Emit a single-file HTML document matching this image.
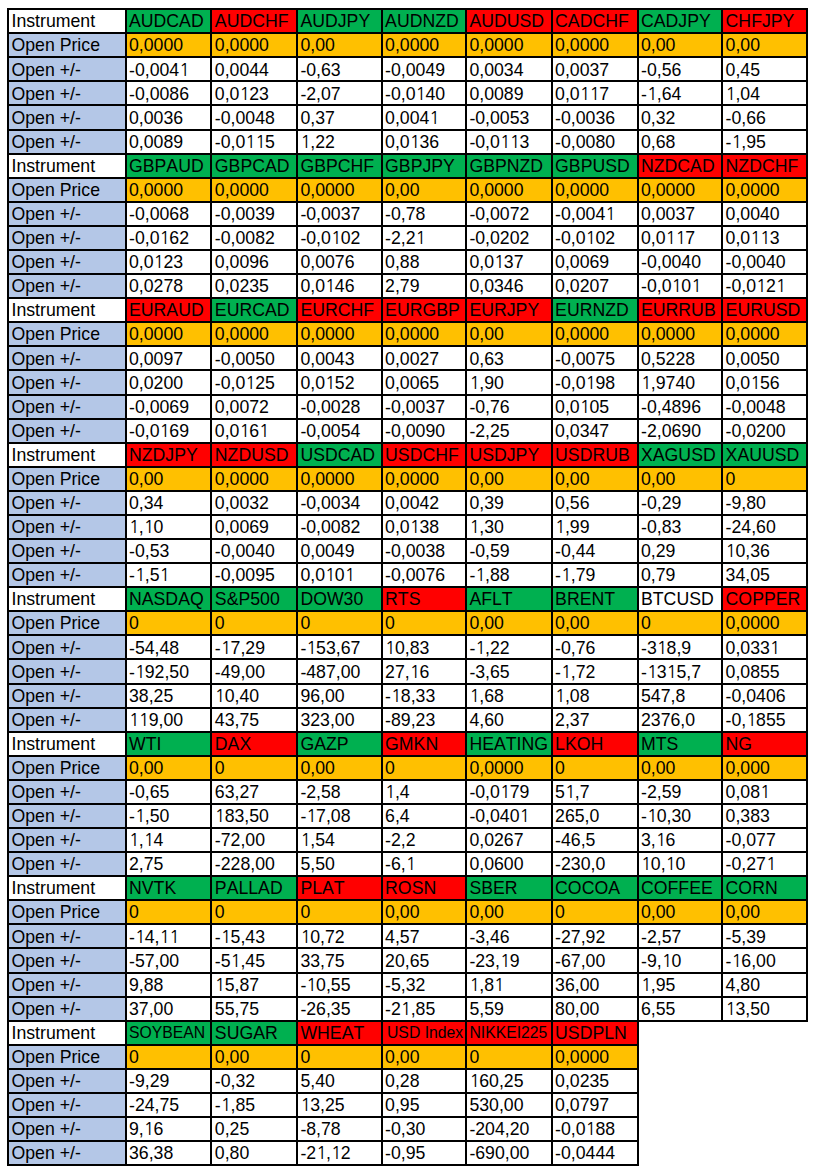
<!DOCTYPE html>
<html><head><meta charset="utf-8"><title>Instruments</title>
<style>
html,body{margin:0;padding:0;background:#fff;}
body{width:815px;height:1173px;position:relative;overflow:hidden;font-family:"Liberation Sans",Arial,sans-serif;font-size:17.7px;color:#000;font-kerning:none;font-feature-settings:"kern" 0;}
.k{position:absolute;background:#000;}
.c{position:absolute;box-sizing:border-box;padding-left:2px;white-space:nowrap;overflow:hidden;line-height:22px;}
.g{background:#00b050}.r{background:#ff0000}.w{background:#fff}.o{background:#ffc000}.b{background:#b4c7e7}
.n1{font-family:"NanumGothic","Liberation Sans",sans-serif;display:inline-block;width:0.556em}
.hy{position:relative;top:1px}
.s1{font-size:15.75px}.s2{font-size:15.75px;padding-left:4px}.s3{font-size:15.75px}
</style></head><body>

<div class="k" style="left:7px;top:8px;width:801px;height:147px"></div>
<div class="c w" style="left:9px;top:10px;width:116px;height:22px;padding-left:2.5px;">Instrument</div>
<div class="c g" style="left:127px;top:10px;width:83px;height:22px;padding-left:2.0px;">AUDCAD</div>
<div class="c r" style="left:212px;top:10px;width:84px;height:22px;padding-left:2.85px;">AUDCHF</div>
<div class="c g" style="left:298px;top:10px;width:83px;height:22px;padding-left:2.4px;">AUDJPY</div>
<div class="c g" style="left:383px;top:10px;width:82px;height:22px;padding-left:2.1px;">AUDNZD</div>
<div class="c r" style="left:467px;top:10px;width:84px;height:22px;padding-left:2.4px;">AUDUSD</div>
<div class="c r" style="left:553px;top:10px;width:84px;height:22px;padding-left:2.1px;">CADCHF</div>
<div class="c g" style="left:639px;top:10px;width:82px;height:22px;padding-left:2.0px;">CADJPY</div>
<div class="c r" style="left:723px;top:10px;width:83px;height:22px;padding-left:2.6px;">CHFJPY</div>
<div class="c b" style="left:9px;top:34px;width:116px;height:22px;padding-left:2.5px;">Open Price</div>
<div class="c o" style="left:127px;top:34px;width:83px;height:22px;padding-left:2.0px;">0,0000</div>
<div class="c o" style="left:212px;top:34px;width:84px;height:22px;padding-left:2.85px;">0,0000</div>
<div class="c o" style="left:298px;top:34px;width:83px;height:22px;padding-left:2.4px;">0,00</div>
<div class="c o" style="left:383px;top:34px;width:82px;height:22px;padding-left:2.1px;">0,0000</div>
<div class="c o" style="left:467px;top:34px;width:84px;height:22px;padding-left:2.4px;">0,0000</div>
<div class="c o" style="left:553px;top:34px;width:84px;height:22px;padding-left:2.1px;">0,0000</div>
<div class="c o" style="left:639px;top:34px;width:82px;height:22px;padding-left:2.0px;">0,00</div>
<div class="c o" style="left:723px;top:34px;width:83px;height:22px;padding-left:2.6px;">0,00</div>
<div class="c b" style="left:9px;top:58px;width:116px;height:22px;padding-top:1px;padding-left:2.5px;">Open +/-</div>
<div class="c w" style="left:127px;top:58px;width:83px;height:22px;padding-top:1px;padding-left:2.0px;"><span class="hy">-</span>0,004<span class="n1">1</span></div>
<div class="c w" style="left:212px;top:58px;width:84px;height:22px;padding-top:1px;padding-left:2.85px;">0,0044</div>
<div class="c w" style="left:298px;top:58px;width:83px;height:22px;padding-top:1px;padding-left:2.4px;"><span class="hy">-</span>0,63</div>
<div class="c w" style="left:383px;top:58px;width:82px;height:22px;padding-top:1px;padding-left:2.1px;"><span class="hy">-</span>0,0049</div>
<div class="c w" style="left:467px;top:58px;width:84px;height:22px;padding-top:1px;padding-left:2.4px;">0,0034</div>
<div class="c w" style="left:553px;top:58px;width:84px;height:22px;padding-top:1px;padding-left:2.1px;">0,0037</div>
<div class="c w" style="left:639px;top:58px;width:82px;height:22px;padding-top:1px;padding-left:2.0px;"><span class="hy">-</span>0,56</div>
<div class="c w" style="left:723px;top:58px;width:83px;height:22px;padding-top:1px;padding-left:2.6px;">0,45</div>
<div class="c b" style="left:9px;top:82px;width:116px;height:22px;padding-top:1px;padding-left:2.5px;">Open +/-</div>
<div class="c w" style="left:127px;top:82px;width:83px;height:22px;padding-top:1px;padding-left:2.0px;"><span class="hy">-</span>0,0086</div>
<div class="c w" style="left:212px;top:82px;width:84px;height:22px;padding-top:1px;padding-left:2.85px;">0,0<span class="n1">1</span>23</div>
<div class="c w" style="left:298px;top:82px;width:83px;height:22px;padding-top:1px;padding-left:2.4px;"><span class="hy">-</span>2,07</div>
<div class="c w" style="left:383px;top:82px;width:82px;height:22px;padding-top:1px;padding-left:2.1px;"><span class="hy">-</span>0,0<span class="n1">1</span>40</div>
<div class="c w" style="left:467px;top:82px;width:84px;height:22px;padding-top:1px;padding-left:2.4px;">0,0089</div>
<div class="c w" style="left:553px;top:82px;width:84px;height:22px;padding-top:1px;padding-left:2.1px;">0,0<span class="n1">1</span><span class="n1">1</span>7</div>
<div class="c w" style="left:639px;top:82px;width:82px;height:22px;padding-top:1px;padding-left:2.0px;"><span class="hy">-</span><span class="n1">1</span>,64</div>
<div class="c w" style="left:723px;top:82px;width:83px;height:22px;padding-top:1px;padding-left:2.6px;"><span class="n1">1</span>,04</div>
<div class="c b" style="left:9px;top:106px;width:116px;height:23px;padding-top:1px;padding-left:2.5px;">Open +/-</div>
<div class="c w" style="left:127px;top:106px;width:83px;height:23px;padding-top:1px;padding-left:2.0px;">0,0036</div>
<div class="c w" style="left:212px;top:106px;width:84px;height:23px;padding-top:1px;padding-left:2.85px;"><span class="hy">-</span>0,0048</div>
<div class="c w" style="left:298px;top:106px;width:83px;height:23px;padding-top:1px;padding-left:2.4px;">0,37</div>
<div class="c w" style="left:383px;top:106px;width:82px;height:23px;padding-top:1px;padding-left:2.1px;">0,004<span class="n1">1</span></div>
<div class="c w" style="left:467px;top:106px;width:84px;height:23px;padding-top:1px;padding-left:2.4px;"><span class="hy">-</span>0,0053</div>
<div class="c w" style="left:553px;top:106px;width:84px;height:23px;padding-top:1px;padding-left:2.1px;"><span class="hy">-</span>0,0036</div>
<div class="c w" style="left:639px;top:106px;width:82px;height:23px;padding-top:1px;padding-left:2.0px;">0,32</div>
<div class="c w" style="left:723px;top:106px;width:83px;height:23px;padding-top:1px;padding-left:2.6px;"><span class="hy">-</span>0,66</div>
<div class="c b" style="left:9px;top:131px;width:116px;height:22px;padding-left:2.5px;">Open +/-</div>
<div class="c w" style="left:127px;top:131px;width:83px;height:22px;padding-left:2.0px;">0,0089</div>
<div class="c w" style="left:212px;top:131px;width:84px;height:22px;padding-left:2.85px;"><span class="hy">-</span>0,0<span class="n1">1</span><span class="n1">1</span>5</div>
<div class="c w" style="left:298px;top:131px;width:83px;height:22px;padding-left:2.4px;"><span class="n1">1</span>,22</div>
<div class="c w" style="left:383px;top:131px;width:82px;height:22px;padding-left:2.1px;">0,0<span class="n1">1</span>36</div>
<div class="c w" style="left:467px;top:131px;width:84px;height:22px;padding-left:2.4px;"><span class="hy">-</span>0,0<span class="n1">1</span><span class="n1">1</span>3</div>
<div class="c w" style="left:553px;top:131px;width:84px;height:22px;padding-left:2.1px;"><span class="hy">-</span>0,0080</div>
<div class="c w" style="left:639px;top:131px;width:82px;height:22px;padding-left:2.0px;">0,68</div>
<div class="c w" style="left:723px;top:131px;width:83px;height:22px;padding-left:2.6px;"><span class="hy">-</span><span class="n1">1</span>,95</div>
<div class="k" style="left:7px;top:153px;width:801px;height:146px"></div>
<div class="c w" style="left:9px;top:155px;width:116px;height:22px;padding-left:2.5px;">Instrument</div>
<div class="c g" style="left:127px;top:155px;width:83px;height:22px;padding-left:2.0px;">GBPAUD</div>
<div class="c g" style="left:212px;top:155px;width:84px;height:22px;padding-left:2.85px;">GBPCAD</div>
<div class="c g" style="left:298px;top:155px;width:83px;height:22px;padding-left:2.4px;">GBPCHF</div>
<div class="c g" style="left:383px;top:155px;width:82px;height:22px;padding-left:2.1px;">GBPJPY</div>
<div class="c g" style="left:467px;top:155px;width:84px;height:22px;padding-left:2.4px;">GBPNZD</div>
<div class="c g" style="left:553px;top:155px;width:84px;height:22px;padding-left:2.1px;">GBPUSD</div>
<div class="c r" style="left:639px;top:155px;width:82px;height:22px;padding-left:2.0px;">NZDCAD</div>
<div class="c r" style="left:723px;top:155px;width:83px;height:22px;padding-left:2.6px;">NZDCHF</div>
<div class="c b" style="left:9px;top:179px;width:116px;height:22px;padding-left:2.5px;">Open Price</div>
<div class="c o" style="left:127px;top:179px;width:83px;height:22px;padding-left:2.0px;">0,0000</div>
<div class="c o" style="left:212px;top:179px;width:84px;height:22px;padding-left:2.85px;">0,0000</div>
<div class="c o" style="left:298px;top:179px;width:83px;height:22px;padding-left:2.4px;">0,0000</div>
<div class="c o" style="left:383px;top:179px;width:82px;height:22px;padding-left:2.1px;">0,00</div>
<div class="c o" style="left:467px;top:179px;width:84px;height:22px;padding-left:2.4px;">0,0000</div>
<div class="c o" style="left:553px;top:179px;width:84px;height:22px;padding-left:2.1px;">0,0000</div>
<div class="c o" style="left:639px;top:179px;width:82px;height:22px;padding-left:2.0px;">0,0000</div>
<div class="c o" style="left:723px;top:179px;width:83px;height:22px;padding-left:2.6px;">0,0000</div>
<div class="c b" style="left:9px;top:203px;width:116px;height:22px;padding-left:2.5px;">Open +/-</div>
<div class="c w" style="left:127px;top:203px;width:83px;height:22px;padding-left:2.0px;"><span class="hy">-</span>0,0068</div>
<div class="c w" style="left:212px;top:203px;width:84px;height:22px;padding-left:2.85px;"><span class="hy">-</span>0,0039</div>
<div class="c w" style="left:298px;top:203px;width:83px;height:22px;padding-left:2.4px;"><span class="hy">-</span>0,0037</div>
<div class="c w" style="left:383px;top:203px;width:82px;height:22px;padding-left:2.1px;"><span class="hy">-</span>0,78</div>
<div class="c w" style="left:467px;top:203px;width:84px;height:22px;padding-left:2.4px;"><span class="hy">-</span>0,0072</div>
<div class="c w" style="left:553px;top:203px;width:84px;height:22px;padding-left:2.1px;"><span class="hy">-</span>0,004<span class="n1">1</span></div>
<div class="c w" style="left:639px;top:203px;width:82px;height:22px;padding-left:2.0px;">0,0037</div>
<div class="c w" style="left:723px;top:203px;width:83px;height:22px;padding-left:2.6px;">0,0040</div>
<div class="c b" style="left:9px;top:227px;width:116px;height:22px;padding-left:2.5px;">Open +/-</div>
<div class="c w" style="left:127px;top:227px;width:83px;height:22px;padding-left:2.0px;"><span class="hy">-</span>0,0<span class="n1">1</span>62</div>
<div class="c w" style="left:212px;top:227px;width:84px;height:22px;padding-left:2.85px;"><span class="hy">-</span>0,0082</div>
<div class="c w" style="left:298px;top:227px;width:83px;height:22px;padding-left:2.4px;"><span class="hy">-</span>0,0<span class="n1">1</span>02</div>
<div class="c w" style="left:383px;top:227px;width:82px;height:22px;padding-left:2.1px;"><span class="hy">-</span>2,2<span class="n1">1</span></div>
<div class="c w" style="left:467px;top:227px;width:84px;height:22px;padding-left:2.4px;"><span class="hy">-</span>0,0202</div>
<div class="c w" style="left:553px;top:227px;width:84px;height:22px;padding-left:2.1px;"><span class="hy">-</span>0,0<span class="n1">1</span>02</div>
<div class="c w" style="left:639px;top:227px;width:82px;height:22px;padding-left:2.0px;">0,0<span class="n1">1</span><span class="n1">1</span>7</div>
<div class="c w" style="left:723px;top:227px;width:83px;height:22px;padding-left:2.6px;">0,0<span class="n1">1</span><span class="n1">1</span>3</div>
<div class="c b" style="left:9px;top:251px;width:116px;height:22px;padding-left:2.5px;">Open +/-</div>
<div class="c w" style="left:127px;top:251px;width:83px;height:22px;padding-left:2.0px;">0,0<span class="n1">1</span>23</div>
<div class="c w" style="left:212px;top:251px;width:84px;height:22px;padding-left:2.85px;">0,0096</div>
<div class="c w" style="left:298px;top:251px;width:83px;height:22px;padding-left:2.4px;">0,0076</div>
<div class="c w" style="left:383px;top:251px;width:82px;height:22px;padding-left:2.1px;">0,88</div>
<div class="c w" style="left:467px;top:251px;width:84px;height:22px;padding-left:2.4px;">0,0<span class="n1">1</span>37</div>
<div class="c w" style="left:553px;top:251px;width:84px;height:22px;padding-left:2.1px;">0,0069</div>
<div class="c w" style="left:639px;top:251px;width:82px;height:22px;padding-left:2.0px;"><span class="hy">-</span>0,0040</div>
<div class="c w" style="left:723px;top:251px;width:83px;height:22px;padding-left:2.6px;"><span class="hy">-</span>0,0040</div>
<div class="c b" style="left:9px;top:275px;width:116px;height:22px;padding-left:2.5px;">Open +/-</div>
<div class="c w" style="left:127px;top:275px;width:83px;height:22px;padding-left:2.0px;">0,0278</div>
<div class="c w" style="left:212px;top:275px;width:84px;height:22px;padding-left:2.85px;">0,0235</div>
<div class="c w" style="left:298px;top:275px;width:83px;height:22px;padding-left:2.4px;">0,0<span class="n1">1</span>46</div>
<div class="c w" style="left:383px;top:275px;width:82px;height:22px;padding-left:2.1px;">2,79</div>
<div class="c w" style="left:467px;top:275px;width:84px;height:22px;padding-left:2.4px;">0,0346</div>
<div class="c w" style="left:553px;top:275px;width:84px;height:22px;padding-left:2.1px;">0,0207</div>
<div class="c w" style="left:639px;top:275px;width:82px;height:22px;padding-left:2.0px;"><span class="hy">-</span>0,0<span class="n1">1</span>0<span class="n1">1</span></div>
<div class="c w" style="left:723px;top:275px;width:83px;height:22px;padding-left:2.6px;"><span class="hy">-</span>0,0<span class="n1">1</span>2<span class="n1">1</span></div>
<div class="k" style="left:7px;top:297px;width:801px;height:147px"></div>
<div class="c w" style="left:9px;top:299px;width:116px;height:22px;padding-left:2.5px;">Instrument</div>
<div class="c r" style="left:127px;top:299px;width:83px;height:22px;padding-left:2.0px;">EURAUD</div>
<div class="c g" style="left:212px;top:299px;width:84px;height:22px;padding-left:2.85px;">EURCAD</div>
<div class="c r" style="left:298px;top:299px;width:83px;height:22px;padding-left:2.4px;">EURCHF</div>
<div class="c r" style="left:383px;top:299px;width:82px;height:22px;padding-left:2.1px;">EURGBP</div>
<div class="c r" style="left:467px;top:299px;width:84px;height:22px;padding-left:2.4px;">EURJPY</div>
<div class="c g" style="left:553px;top:299px;width:84px;height:22px;padding-left:2.1px;">EURNZD</div>
<div class="c r" style="left:639px;top:299px;width:82px;height:22px;padding-left:2.0px;">EURRUB</div>
<div class="c r" style="left:723px;top:299px;width:83px;height:22px;padding-left:2.6px;">EURUSD</div>
<div class="c b" style="left:9px;top:323px;width:116px;height:22px;padding-left:2.5px;">Open Price</div>
<div class="c o" style="left:127px;top:323px;width:83px;height:22px;padding-left:2.0px;">0,0000</div>
<div class="c o" style="left:212px;top:323px;width:84px;height:22px;padding-left:2.85px;">0,0000</div>
<div class="c o" style="left:298px;top:323px;width:83px;height:22px;padding-left:2.4px;">0,0000</div>
<div class="c o" style="left:383px;top:323px;width:82px;height:22px;padding-left:2.1px;">0,0000</div>
<div class="c o" style="left:467px;top:323px;width:84px;height:22px;padding-left:2.4px;">0,00</div>
<div class="c o" style="left:553px;top:323px;width:84px;height:22px;padding-left:2.1px;">0,0000</div>
<div class="c o" style="left:639px;top:323px;width:82px;height:22px;padding-left:2.0px;">0,0000</div>
<div class="c o" style="left:723px;top:323px;width:83px;height:22px;padding-left:2.6px;">0,0000</div>
<div class="c b" style="left:9px;top:347px;width:116px;height:22px;padding-top:1px;padding-left:2.5px;">Open +/-</div>
<div class="c w" style="left:127px;top:347px;width:83px;height:22px;padding-top:1px;padding-left:2.0px;">0,0097</div>
<div class="c w" style="left:212px;top:347px;width:84px;height:22px;padding-top:1px;padding-left:2.85px;"><span class="hy">-</span>0,0050</div>
<div class="c w" style="left:298px;top:347px;width:83px;height:22px;padding-top:1px;padding-left:2.4px;">0,0043</div>
<div class="c w" style="left:383px;top:347px;width:82px;height:22px;padding-top:1px;padding-left:2.1px;">0,0027</div>
<div class="c w" style="left:467px;top:347px;width:84px;height:22px;padding-top:1px;padding-left:2.4px;">0,63</div>
<div class="c w" style="left:553px;top:347px;width:84px;height:22px;padding-top:1px;padding-left:2.1px;"><span class="hy">-</span>0,0075</div>
<div class="c w" style="left:639px;top:347px;width:82px;height:22px;padding-top:1px;padding-left:2.0px;">0,5228</div>
<div class="c w" style="left:723px;top:347px;width:83px;height:22px;padding-top:1px;padding-left:2.6px;">0,0050</div>
<div class="c b" style="left:9px;top:371px;width:116px;height:23px;padding-top:1px;padding-left:2.5px;">Open +/-</div>
<div class="c w" style="left:127px;top:371px;width:83px;height:23px;padding-top:1px;padding-left:2.0px;">0,0200</div>
<div class="c w" style="left:212px;top:371px;width:84px;height:23px;padding-top:1px;padding-left:2.85px;"><span class="hy">-</span>0,0<span class="n1">1</span>25</div>
<div class="c w" style="left:298px;top:371px;width:83px;height:23px;padding-top:1px;padding-left:2.4px;">0,0<span class="n1">1</span>52</div>
<div class="c w" style="left:383px;top:371px;width:82px;height:23px;padding-top:1px;padding-left:2.1px;">0,0065</div>
<div class="c w" style="left:467px;top:371px;width:84px;height:23px;padding-top:1px;padding-left:2.4px;"><span class="n1">1</span>,90</div>
<div class="c w" style="left:553px;top:371px;width:84px;height:23px;padding-top:1px;padding-left:2.1px;"><span class="hy">-</span>0,0<span class="n1">1</span>98</div>
<div class="c w" style="left:639px;top:371px;width:82px;height:23px;padding-top:1px;padding-left:2.0px;"><span class="n1">1</span>,9740</div>
<div class="c w" style="left:723px;top:371px;width:83px;height:23px;padding-top:1px;padding-left:2.6px;">0,0<span class="n1">1</span>56</div>
<div class="c b" style="left:9px;top:396px;width:116px;height:22px;padding-left:2.5px;">Open +/-</div>
<div class="c w" style="left:127px;top:396px;width:83px;height:22px;padding-left:2.0px;"><span class="hy">-</span>0,0069</div>
<div class="c w" style="left:212px;top:396px;width:84px;height:22px;padding-left:2.85px;">0,0072</div>
<div class="c w" style="left:298px;top:396px;width:83px;height:22px;padding-left:2.4px;"><span class="hy">-</span>0,0028</div>
<div class="c w" style="left:383px;top:396px;width:82px;height:22px;padding-left:2.1px;"><span class="hy">-</span>0,0037</div>
<div class="c w" style="left:467px;top:396px;width:84px;height:22px;padding-left:2.4px;"><span class="hy">-</span>0,76</div>
<div class="c w" style="left:553px;top:396px;width:84px;height:22px;padding-left:2.1px;">0,0<span class="n1">1</span>05</div>
<div class="c w" style="left:639px;top:396px;width:82px;height:22px;padding-left:2.0px;"><span class="hy">-</span>0,4896</div>
<div class="c w" style="left:723px;top:396px;width:83px;height:22px;padding-left:2.6px;"><span class="hy">-</span>0,0048</div>
<div class="c b" style="left:9px;top:420px;width:116px;height:22px;padding-left:2.5px;">Open +/-</div>
<div class="c w" style="left:127px;top:420px;width:83px;height:22px;padding-left:2.0px;"><span class="hy">-</span>0,0<span class="n1">1</span>69</div>
<div class="c w" style="left:212px;top:420px;width:84px;height:22px;padding-left:2.85px;">0,0<span class="n1">1</span>6<span class="n1">1</span></div>
<div class="c w" style="left:298px;top:420px;width:83px;height:22px;padding-left:2.4px;"><span class="hy">-</span>0,0054</div>
<div class="c w" style="left:383px;top:420px;width:82px;height:22px;padding-left:2.1px;"><span class="hy">-</span>0,0090</div>
<div class="c w" style="left:467px;top:420px;width:84px;height:22px;padding-left:2.4px;"><span class="hy">-</span>2,25</div>
<div class="c w" style="left:553px;top:420px;width:84px;height:22px;padding-left:2.1px;">0,0347</div>
<div class="c w" style="left:639px;top:420px;width:82px;height:22px;padding-left:2.0px;"><span class="hy">-</span>2,0690</div>
<div class="c w" style="left:723px;top:420px;width:83px;height:22px;padding-left:2.6px;"><span class="hy">-</span>0,0200</div>
<div class="k" style="left:7px;top:442px;width:801px;height:146px"></div>
<div class="c w" style="left:9px;top:444px;width:116px;height:22px;padding-left:2.5px;">Instrument</div>
<div class="c r" style="left:127px;top:444px;width:83px;height:22px;padding-left:2.0px;">NZDJPY</div>
<div class="c r" style="left:212px;top:444px;width:84px;height:22px;padding-left:2.85px;">NZDUSD</div>
<div class="c g" style="left:298px;top:444px;width:83px;height:22px;padding-left:2.4px;">USDCAD</div>
<div class="c r" style="left:383px;top:444px;width:82px;height:22px;padding-left:2.1px;">USDCHF</div>
<div class="c r" style="left:467px;top:444px;width:84px;height:22px;padding-left:2.4px;">USDJPY</div>
<div class="c r" style="left:553px;top:444px;width:84px;height:22px;padding-left:2.1px;">USDRUB</div>
<div class="c g" style="left:639px;top:444px;width:82px;height:22px;padding-left:2.0px;">XAGUSD</div>
<div class="c g" style="left:723px;top:444px;width:83px;height:22px;padding-left:2.6px;">XAUUSD</div>
<div class="c b" style="left:9px;top:468px;width:116px;height:22px;padding-left:2.5px;">Open Price</div>
<div class="c o" style="left:127px;top:468px;width:83px;height:22px;padding-left:2.0px;">0,00</div>
<div class="c o" style="left:212px;top:468px;width:84px;height:22px;padding-left:2.85px;">0,0000</div>
<div class="c o" style="left:298px;top:468px;width:83px;height:22px;padding-left:2.4px;">0,0000</div>
<div class="c o" style="left:383px;top:468px;width:82px;height:22px;padding-left:2.1px;">0,0000</div>
<div class="c o" style="left:467px;top:468px;width:84px;height:22px;padding-left:2.4px;">0,00</div>
<div class="c o" style="left:553px;top:468px;width:84px;height:22px;padding-left:2.1px;">0,00</div>
<div class="c o" style="left:639px;top:468px;width:82px;height:22px;padding-left:2.0px;">0,00</div>
<div class="c o" style="left:723px;top:468px;width:83px;height:22px;padding-left:2.6px;">0</div>
<div class="c b" style="left:9px;top:492px;width:116px;height:22px;padding-left:2.5px;">Open +/-</div>
<div class="c w" style="left:127px;top:492px;width:83px;height:22px;padding-left:2.0px;">0,34</div>
<div class="c w" style="left:212px;top:492px;width:84px;height:22px;padding-left:2.85px;">0,0032</div>
<div class="c w" style="left:298px;top:492px;width:83px;height:22px;padding-left:2.4px;"><span class="hy">-</span>0,0034</div>
<div class="c w" style="left:383px;top:492px;width:82px;height:22px;padding-left:2.1px;">0,0042</div>
<div class="c w" style="left:467px;top:492px;width:84px;height:22px;padding-left:2.4px;">0,39</div>
<div class="c w" style="left:553px;top:492px;width:84px;height:22px;padding-left:2.1px;">0,56</div>
<div class="c w" style="left:639px;top:492px;width:82px;height:22px;padding-left:2.0px;"><span class="hy">-</span>0,29</div>
<div class="c w" style="left:723px;top:492px;width:83px;height:22px;padding-left:2.6px;"><span class="hy">-</span>9,80</div>
<div class="c b" style="left:9px;top:516px;width:116px;height:22px;padding-left:2.5px;">Open +/-</div>
<div class="c w" style="left:127px;top:516px;width:83px;height:22px;padding-left:2.0px;"><span class="n1">1</span>,<span class="n1">1</span>0</div>
<div class="c w" style="left:212px;top:516px;width:84px;height:22px;padding-left:2.85px;">0,0069</div>
<div class="c w" style="left:298px;top:516px;width:83px;height:22px;padding-left:2.4px;"><span class="hy">-</span>0,0082</div>
<div class="c w" style="left:383px;top:516px;width:82px;height:22px;padding-left:2.1px;">0,0<span class="n1">1</span>38</div>
<div class="c w" style="left:467px;top:516px;width:84px;height:22px;padding-left:2.4px;"><span class="n1">1</span>,30</div>
<div class="c w" style="left:553px;top:516px;width:84px;height:22px;padding-left:2.1px;"><span class="n1">1</span>,99</div>
<div class="c w" style="left:639px;top:516px;width:82px;height:22px;padding-left:2.0px;"><span class="hy">-</span>0,83</div>
<div class="c w" style="left:723px;top:516px;width:83px;height:22px;padding-left:2.6px;"><span class="hy">-</span>24,60</div>
<div class="c b" style="left:9px;top:540px;width:116px;height:22px;padding-left:2.5px;">Open +/-</div>
<div class="c w" style="left:127px;top:540px;width:83px;height:22px;padding-left:2.0px;"><span class="hy">-</span>0,53</div>
<div class="c w" style="left:212px;top:540px;width:84px;height:22px;padding-left:2.85px;"><span class="hy">-</span>0,0040</div>
<div class="c w" style="left:298px;top:540px;width:83px;height:22px;padding-left:2.4px;">0,0049</div>
<div class="c w" style="left:383px;top:540px;width:82px;height:22px;padding-left:2.1px;"><span class="hy">-</span>0,0038</div>
<div class="c w" style="left:467px;top:540px;width:84px;height:22px;padding-left:2.4px;"><span class="hy">-</span>0,59</div>
<div class="c w" style="left:553px;top:540px;width:84px;height:22px;padding-left:2.1px;"><span class="hy">-</span>0,44</div>
<div class="c w" style="left:639px;top:540px;width:82px;height:22px;padding-left:2.0px;">0,29</div>
<div class="c w" style="left:723px;top:540px;width:83px;height:22px;padding-left:2.6px;"><span class="n1">1</span>0,36</div>
<div class="c b" style="left:9px;top:564px;width:116px;height:22px;padding-left:2.5px;">Open +/-</div>
<div class="c w" style="left:127px;top:564px;width:83px;height:22px;padding-left:2.0px;"><span class="hy">-</span><span class="n1">1</span>,5<span class="n1">1</span></div>
<div class="c w" style="left:212px;top:564px;width:84px;height:22px;padding-left:2.85px;"><span class="hy">-</span>0,0095</div>
<div class="c w" style="left:298px;top:564px;width:83px;height:22px;padding-left:2.4px;">0,0<span class="n1">1</span>0<span class="n1">1</span></div>
<div class="c w" style="left:383px;top:564px;width:82px;height:22px;padding-left:2.1px;"><span class="hy">-</span>0,0076</div>
<div class="c w" style="left:467px;top:564px;width:84px;height:22px;padding-left:2.4px;"><span class="hy">-</span><span class="n1">1</span>,88</div>
<div class="c w" style="left:553px;top:564px;width:84px;height:22px;padding-left:2.1px;"><span class="hy">-</span><span class="n1">1</span>,79</div>
<div class="c w" style="left:639px;top:564px;width:82px;height:22px;padding-left:2.0px;">0,79</div>
<div class="c w" style="left:723px;top:564px;width:83px;height:22px;padding-left:2.6px;">34,05</div>
<div class="k" style="left:7px;top:586px;width:801px;height:147px"></div>
<div class="c w" style="left:9px;top:588px;width:116px;height:22px;padding-left:2.5px;">Instrument</div>
<div class="c g" style="left:127px;top:588px;width:83px;height:22px;padding-left:2.0px;">NASDAQ</div>
<div class="c g" style="left:212px;top:588px;width:84px;height:22px;padding-left:2.85px;">S&amp;P500</div>
<div class="c g" style="left:298px;top:588px;width:83px;height:22px;padding-left:2.4px;">DOW30</div>
<div class="c r" style="left:383px;top:588px;width:82px;height:22px;padding-left:2.1px;">RTS</div>
<div class="c g" style="left:467px;top:588px;width:84px;height:22px;padding-left:2.4px;">AFLT</div>
<div class="c g" style="left:553px;top:588px;width:84px;height:22px;padding-left:2.1px;">BRENT</div>
<div class="c w" style="left:639px;top:588px;width:82px;height:22px;padding-left:2.0px;">BTCUSD</div>
<div class="c r" style="left:723px;top:588px;width:83px;height:22px;padding-left:2.6px;">COPPER</div>
<div class="c b" style="left:9px;top:612px;width:116px;height:22px;padding-left:2.5px;">Open Price</div>
<div class="c o" style="left:127px;top:612px;width:83px;height:22px;padding-left:2.0px;">0</div>
<div class="c o" style="left:212px;top:612px;width:84px;height:22px;padding-left:2.85px;">0</div>
<div class="c o" style="left:298px;top:612px;width:83px;height:22px;padding-left:2.4px;">0</div>
<div class="c o" style="left:383px;top:612px;width:82px;height:22px;padding-left:2.1px;">0</div>
<div class="c o" style="left:467px;top:612px;width:84px;height:22px;padding-left:2.4px;">0,00</div>
<div class="c o" style="left:553px;top:612px;width:84px;height:22px;padding-left:2.1px;">0,00</div>
<div class="c o" style="left:639px;top:612px;width:82px;height:22px;padding-left:2.0px;">0</div>
<div class="c o" style="left:723px;top:612px;width:83px;height:22px;padding-left:2.6px;">0,0000</div>
<div class="c b" style="left:9px;top:636px;width:116px;height:22px;padding-top:1px;padding-left:2.5px;">Open +/-</div>
<div class="c w" style="left:127px;top:636px;width:83px;height:22px;padding-top:1px;padding-left:2.0px;"><span class="hy">-</span>54,48</div>
<div class="c w" style="left:212px;top:636px;width:84px;height:22px;padding-top:1px;padding-left:2.85px;"><span class="hy">-</span><span class="n1">1</span>7,29</div>
<div class="c w" style="left:298px;top:636px;width:83px;height:22px;padding-top:1px;padding-left:2.4px;"><span class="hy">-</span><span class="n1">1</span>53,67</div>
<div class="c w" style="left:383px;top:636px;width:82px;height:22px;padding-top:1px;padding-left:2.1px;"><span class="n1">1</span>0,83</div>
<div class="c w" style="left:467px;top:636px;width:84px;height:22px;padding-top:1px;padding-left:2.4px;"><span class="hy">-</span><span class="n1">1</span>,22</div>
<div class="c w" style="left:553px;top:636px;width:84px;height:22px;padding-top:1px;padding-left:2.1px;"><span class="hy">-</span>0,76</div>
<div class="c w" style="left:639px;top:636px;width:82px;height:22px;padding-top:1px;padding-left:2.0px;"><span class="hy">-</span>3<span class="n1">1</span>8,9</div>
<div class="c w" style="left:723px;top:636px;width:83px;height:22px;padding-top:1px;padding-left:2.6px;">0,033<span class="n1">1</span></div>
<div class="c b" style="left:9px;top:660px;width:116px;height:23px;padding-top:1px;padding-left:2.5px;">Open +/-</div>
<div class="c w" style="left:127px;top:660px;width:83px;height:23px;padding-top:1px;padding-left:2.0px;"><span class="hy">-</span><span class="n1">1</span>92,50</div>
<div class="c w" style="left:212px;top:660px;width:84px;height:23px;padding-top:1px;padding-left:2.85px;"><span class="hy">-</span>49,00</div>
<div class="c w" style="left:298px;top:660px;width:83px;height:23px;padding-top:1px;padding-left:2.4px;"><span class="hy">-</span>487,00</div>
<div class="c w" style="left:383px;top:660px;width:82px;height:23px;padding-top:1px;padding-left:2.1px;">27,<span class="n1">1</span>6</div>
<div class="c w" style="left:467px;top:660px;width:84px;height:23px;padding-top:1px;padding-left:2.4px;"><span class="hy">-</span>3,65</div>
<div class="c w" style="left:553px;top:660px;width:84px;height:23px;padding-top:1px;padding-left:2.1px;"><span class="hy">-</span><span class="n1">1</span>,72</div>
<div class="c w" style="left:639px;top:660px;width:82px;height:23px;padding-top:1px;padding-left:2.0px;"><span class="hy">-</span><span class="n1">1</span>3<span class="n1">1</span>5,7</div>
<div class="c w" style="left:723px;top:660px;width:83px;height:23px;padding-top:1px;padding-left:2.6px;">0,0855</div>
<div class="c b" style="left:9px;top:685px;width:116px;height:22px;padding-left:2.5px;">Open +/-</div>
<div class="c w" style="left:127px;top:685px;width:83px;height:22px;padding-left:2.0px;">38,25</div>
<div class="c w" style="left:212px;top:685px;width:84px;height:22px;padding-left:2.85px;"><span class="n1">1</span>0,40</div>
<div class="c w" style="left:298px;top:685px;width:83px;height:22px;padding-left:2.4px;">96,00</div>
<div class="c w" style="left:383px;top:685px;width:82px;height:22px;padding-left:2.1px;"><span class="hy">-</span><span class="n1">1</span>8,33</div>
<div class="c w" style="left:467px;top:685px;width:84px;height:22px;padding-left:2.4px;"><span class="n1">1</span>,68</div>
<div class="c w" style="left:553px;top:685px;width:84px;height:22px;padding-left:2.1px;"><span class="n1">1</span>,08</div>
<div class="c w" style="left:639px;top:685px;width:82px;height:22px;padding-left:2.0px;">547,8</div>
<div class="c w" style="left:723px;top:685px;width:83px;height:22px;padding-left:2.6px;"><span class="hy">-</span>0,0406</div>
<div class="c b" style="left:9px;top:709px;width:116px;height:22px;padding-left:2.5px;">Open +/-</div>
<div class="c w" style="left:127px;top:709px;width:83px;height:22px;padding-left:2.0px;"><span class="n1">1</span><span class="n1">1</span>9,00</div>
<div class="c w" style="left:212px;top:709px;width:84px;height:22px;padding-left:2.85px;">43,75</div>
<div class="c w" style="left:298px;top:709px;width:83px;height:22px;padding-left:2.4px;">323,00</div>
<div class="c w" style="left:383px;top:709px;width:82px;height:22px;padding-left:2.1px;"><span class="hy">-</span>89,23</div>
<div class="c w" style="left:467px;top:709px;width:84px;height:22px;padding-left:2.4px;">4,60</div>
<div class="c w" style="left:553px;top:709px;width:84px;height:22px;padding-left:2.1px;">2,37</div>
<div class="c w" style="left:639px;top:709px;width:82px;height:22px;padding-left:2.0px;">2376,0</div>
<div class="c w" style="left:723px;top:709px;width:83px;height:22px;padding-left:2.6px;"><span class="hy">-</span>0,<span class="n1">1</span>855</div>
<div class="k" style="left:7px;top:731px;width:801px;height:146px"></div>
<div class="c w" style="left:9px;top:733px;width:116px;height:22px;padding-left:2.5px;">Instrument</div>
<div class="c g" style="left:127px;top:733px;width:83px;height:22px;padding-left:2.0px;">WTI</div>
<div class="c r" style="left:212px;top:733px;width:84px;height:22px;padding-left:2.85px;">DAX</div>
<div class="c g" style="left:298px;top:733px;width:83px;height:22px;padding-left:2.4px;">GAZP</div>
<div class="c r" style="left:383px;top:733px;width:82px;height:22px;padding-left:2.1px;">GMKN</div>
<div class="c g" style="left:467px;top:733px;width:84px;height:22px;padding-left:2.4px;">HEATING</div>
<div class="c r" style="left:553px;top:733px;width:84px;height:22px;padding-left:2.1px;">LKOH</div>
<div class="c g" style="left:639px;top:733px;width:82px;height:22px;padding-left:2.0px;">MTS</div>
<div class="c r" style="left:723px;top:733px;width:83px;height:22px;padding-left:2.6px;">NG</div>
<div class="c b" style="left:9px;top:757px;width:116px;height:22px;padding-left:2.5px;">Open Price</div>
<div class="c o" style="left:127px;top:757px;width:83px;height:22px;padding-left:2.0px;">0,00</div>
<div class="c o" style="left:212px;top:757px;width:84px;height:22px;padding-left:2.85px;">0</div>
<div class="c o" style="left:298px;top:757px;width:83px;height:22px;padding-left:2.4px;">0,00</div>
<div class="c o" style="left:383px;top:757px;width:82px;height:22px;padding-left:2.1px;">0</div>
<div class="c o" style="left:467px;top:757px;width:84px;height:22px;padding-left:2.4px;">0,0000</div>
<div class="c o" style="left:553px;top:757px;width:84px;height:22px;padding-left:2.1px;">0</div>
<div class="c o" style="left:639px;top:757px;width:82px;height:22px;padding-left:2.0px;">0,00</div>
<div class="c o" style="left:723px;top:757px;width:83px;height:22px;padding-left:2.6px;">0,000</div>
<div class="c b" style="left:9px;top:781px;width:116px;height:22px;padding-left:2.5px;">Open +/-</div>
<div class="c w" style="left:127px;top:781px;width:83px;height:22px;padding-left:2.0px;"><span class="hy">-</span>0,65</div>
<div class="c w" style="left:212px;top:781px;width:84px;height:22px;padding-left:2.85px;">63,27</div>
<div class="c w" style="left:298px;top:781px;width:83px;height:22px;padding-left:2.4px;"><span class="hy">-</span>2,58</div>
<div class="c w" style="left:383px;top:781px;width:82px;height:22px;padding-left:2.1px;"><span class="n1">1</span>,4</div>
<div class="c w" style="left:467px;top:781px;width:84px;height:22px;padding-left:2.4px;"><span class="hy">-</span>0,0<span class="n1">1</span>79</div>
<div class="c w" style="left:553px;top:781px;width:84px;height:22px;padding-left:2.1px;">5<span class="n1">1</span>,7</div>
<div class="c w" style="left:639px;top:781px;width:82px;height:22px;padding-left:2.0px;"><span class="hy">-</span>2,59</div>
<div class="c w" style="left:723px;top:781px;width:83px;height:22px;padding-left:2.6px;">0,08<span class="n1">1</span></div>
<div class="c b" style="left:9px;top:805px;width:116px;height:22px;padding-left:2.5px;">Open +/-</div>
<div class="c w" style="left:127px;top:805px;width:83px;height:22px;padding-left:2.0px;"><span class="hy">-</span><span class="n1">1</span>,50</div>
<div class="c w" style="left:212px;top:805px;width:84px;height:22px;padding-left:2.85px;"><span class="n1">1</span>83,50</div>
<div class="c w" style="left:298px;top:805px;width:83px;height:22px;padding-left:2.4px;"><span class="hy">-</span><span class="n1">1</span>7,08</div>
<div class="c w" style="left:383px;top:805px;width:82px;height:22px;padding-left:2.1px;">6,4</div>
<div class="c w" style="left:467px;top:805px;width:84px;height:22px;padding-left:2.4px;"><span class="hy">-</span>0,040<span class="n1">1</span></div>
<div class="c w" style="left:553px;top:805px;width:84px;height:22px;padding-left:2.1px;">265,0</div>
<div class="c w" style="left:639px;top:805px;width:82px;height:22px;padding-left:2.0px;"><span class="hy">-</span><span class="n1">1</span>0,30</div>
<div class="c w" style="left:723px;top:805px;width:83px;height:22px;padding-left:2.6px;">0,383</div>
<div class="c b" style="left:9px;top:829px;width:116px;height:22px;padding-left:2.5px;">Open +/-</div>
<div class="c w" style="left:127px;top:829px;width:83px;height:22px;padding-left:2.0px;"><span class="n1">1</span>,<span class="n1">1</span>4</div>
<div class="c w" style="left:212px;top:829px;width:84px;height:22px;padding-left:2.85px;"><span class="hy">-</span>72,00</div>
<div class="c w" style="left:298px;top:829px;width:83px;height:22px;padding-left:2.4px;"><span class="n1">1</span>,54</div>
<div class="c w" style="left:383px;top:829px;width:82px;height:22px;padding-left:2.1px;"><span class="hy">-</span>2,2</div>
<div class="c w" style="left:467px;top:829px;width:84px;height:22px;padding-left:2.4px;">0,0267</div>
<div class="c w" style="left:553px;top:829px;width:84px;height:22px;padding-left:2.1px;"><span class="hy">-</span>46,5</div>
<div class="c w" style="left:639px;top:829px;width:82px;height:22px;padding-left:2.0px;">3,<span class="n1">1</span>6</div>
<div class="c w" style="left:723px;top:829px;width:83px;height:22px;padding-left:2.6px;"><span class="hy">-</span>0,077</div>
<div class="c b" style="left:9px;top:853px;width:116px;height:22px;padding-left:2.5px;">Open +/-</div>
<div class="c w" style="left:127px;top:853px;width:83px;height:22px;padding-left:2.0px;">2,75</div>
<div class="c w" style="left:212px;top:853px;width:84px;height:22px;padding-left:2.85px;"><span class="hy">-</span>228,00</div>
<div class="c w" style="left:298px;top:853px;width:83px;height:22px;padding-left:2.4px;">5,50</div>
<div class="c w" style="left:383px;top:853px;width:82px;height:22px;padding-left:2.1px;"><span class="hy">-</span>6,<span class="n1">1</span></div>
<div class="c w" style="left:467px;top:853px;width:84px;height:22px;padding-left:2.4px;">0,0600</div>
<div class="c w" style="left:553px;top:853px;width:84px;height:22px;padding-left:2.1px;"><span class="hy">-</span>230,0</div>
<div class="c w" style="left:639px;top:853px;width:82px;height:22px;padding-left:2.0px;"><span class="n1">1</span>0,<span class="n1">1</span>0</div>
<div class="c w" style="left:723px;top:853px;width:83px;height:22px;padding-left:2.6px;"><span class="hy">-</span>0,27<span class="n1">1</span></div>
<div class="k" style="left:7px;top:875px;width:801px;height:147px"></div>
<div class="c w" style="left:9px;top:877px;width:116px;height:22px;padding-left:2.5px;">Instrument</div>
<div class="c g" style="left:127px;top:877px;width:83px;height:22px;padding-left:2.0px;">NVTK</div>
<div class="c g" style="left:212px;top:877px;width:84px;height:22px;padding-left:2.85px;">PALLAD</div>
<div class="c r" style="left:298px;top:877px;width:83px;height:22px;padding-left:2.4px;">PLAT</div>
<div class="c r" style="left:383px;top:877px;width:82px;height:22px;padding-left:2.1px;">ROSN</div>
<div class="c g" style="left:467px;top:877px;width:84px;height:22px;padding-left:2.4px;">SBER</div>
<div class="c g" style="left:553px;top:877px;width:84px;height:22px;padding-left:2.1px;">COCOA</div>
<div class="c g" style="left:639px;top:877px;width:82px;height:22px;padding-left:2.0px;">COFFEE</div>
<div class="c g" style="left:723px;top:877px;width:83px;height:22px;padding-left:2.6px;">CORN</div>
<div class="c b" style="left:9px;top:901px;width:116px;height:22px;padding-left:2.5px;">Open Price</div>
<div class="c o" style="left:127px;top:901px;width:83px;height:22px;padding-left:2.0px;">0</div>
<div class="c o" style="left:212px;top:901px;width:84px;height:22px;padding-left:2.85px;">0</div>
<div class="c o" style="left:298px;top:901px;width:83px;height:22px;padding-left:2.4px;">0</div>
<div class="c o" style="left:383px;top:901px;width:82px;height:22px;padding-left:2.1px;">0,00</div>
<div class="c o" style="left:467px;top:901px;width:84px;height:22px;padding-left:2.4px;">0,00</div>
<div class="c o" style="left:553px;top:901px;width:84px;height:22px;padding-left:2.1px;">0</div>
<div class="c o" style="left:639px;top:901px;width:82px;height:22px;padding-left:2.0px;">0,00</div>
<div class="c o" style="left:723px;top:901px;width:83px;height:22px;padding-left:2.6px;">0,00</div>
<div class="c b" style="left:9px;top:925px;width:116px;height:22px;padding-top:1px;padding-left:2.5px;">Open +/-</div>
<div class="c w" style="left:127px;top:925px;width:83px;height:22px;padding-top:1px;padding-left:2.0px;"><span class="hy">-</span><span class="n1">1</span>4,<span class="n1">1</span><span class="n1">1</span></div>
<div class="c w" style="left:212px;top:925px;width:84px;height:22px;padding-top:1px;padding-left:2.85px;"><span class="hy">-</span><span class="n1">1</span>5,43</div>
<div class="c w" style="left:298px;top:925px;width:83px;height:22px;padding-top:1px;padding-left:2.4px;"><span class="n1">1</span>0,72</div>
<div class="c w" style="left:383px;top:925px;width:82px;height:22px;padding-top:1px;padding-left:2.1px;">4,57</div>
<div class="c w" style="left:467px;top:925px;width:84px;height:22px;padding-top:1px;padding-left:2.4px;"><span class="hy">-</span>3,46</div>
<div class="c w" style="left:553px;top:925px;width:84px;height:22px;padding-top:1px;padding-left:2.1px;"><span class="hy">-</span>27,92</div>
<div class="c w" style="left:639px;top:925px;width:82px;height:22px;padding-top:1px;padding-left:2.0px;"><span class="hy">-</span>2,57</div>
<div class="c w" style="left:723px;top:925px;width:83px;height:22px;padding-top:1px;padding-left:2.6px;"><span class="hy">-</span>5,39</div>
<div class="c b" style="left:9px;top:949px;width:116px;height:23px;padding-top:1px;padding-left:2.5px;">Open +/-</div>
<div class="c w" style="left:127px;top:949px;width:83px;height:23px;padding-top:1px;padding-left:2.0px;"><span class="hy">-</span>57,00</div>
<div class="c w" style="left:212px;top:949px;width:84px;height:23px;padding-top:1px;padding-left:2.85px;"><span class="hy">-</span>5<span class="n1">1</span>,45</div>
<div class="c w" style="left:298px;top:949px;width:83px;height:23px;padding-top:1px;padding-left:2.4px;">33,75</div>
<div class="c w" style="left:383px;top:949px;width:82px;height:23px;padding-top:1px;padding-left:2.1px;">20,65</div>
<div class="c w" style="left:467px;top:949px;width:84px;height:23px;padding-top:1px;padding-left:2.4px;"><span class="hy">-</span>23,<span class="n1">1</span>9</div>
<div class="c w" style="left:553px;top:949px;width:84px;height:23px;padding-top:1px;padding-left:2.1px;"><span class="hy">-</span>67,00</div>
<div class="c w" style="left:639px;top:949px;width:82px;height:23px;padding-top:1px;padding-left:2.0px;"><span class="hy">-</span>9,<span class="n1">1</span>0</div>
<div class="c w" style="left:723px;top:949px;width:83px;height:23px;padding-top:1px;padding-left:2.6px;"><span class="hy">-</span><span class="n1">1</span>6,00</div>
<div class="c b" style="left:9px;top:974px;width:116px;height:22px;padding-left:2.5px;">Open +/-</div>
<div class="c w" style="left:127px;top:974px;width:83px;height:22px;padding-left:2.0px;">9,88</div>
<div class="c w" style="left:212px;top:974px;width:84px;height:22px;padding-left:2.85px;"><span class="n1">1</span>5,87</div>
<div class="c w" style="left:298px;top:974px;width:83px;height:22px;padding-left:2.4px;"><span class="hy">-</span><span class="n1">1</span>0,55</div>
<div class="c w" style="left:383px;top:974px;width:82px;height:22px;padding-left:2.1px;"><span class="hy">-</span>5,32</div>
<div class="c w" style="left:467px;top:974px;width:84px;height:22px;padding-left:2.4px;"><span class="n1">1</span>,8<span class="n1">1</span></div>
<div class="c w" style="left:553px;top:974px;width:84px;height:22px;padding-left:2.1px;">36,00</div>
<div class="c w" style="left:639px;top:974px;width:82px;height:22px;padding-left:2.0px;"><span class="n1">1</span>,95</div>
<div class="c w" style="left:723px;top:974px;width:83px;height:22px;padding-left:2.6px;">4,80</div>
<div class="c b" style="left:9px;top:998px;width:116px;height:22px;padding-left:2.5px;">Open +/-</div>
<div class="c w" style="left:127px;top:998px;width:83px;height:22px;padding-left:2.0px;">37,00</div>
<div class="c w" style="left:212px;top:998px;width:84px;height:22px;padding-left:2.85px;">55,75</div>
<div class="c w" style="left:298px;top:998px;width:83px;height:22px;padding-left:2.4px;"><span class="hy">-</span>26,35</div>
<div class="c w" style="left:383px;top:998px;width:82px;height:22px;padding-left:2.1px;"><span class="hy">-</span>2<span class="n1">1</span>,85</div>
<div class="c w" style="left:467px;top:998px;width:84px;height:22px;padding-left:2.4px;">5,59</div>
<div class="c w" style="left:553px;top:998px;width:84px;height:22px;padding-left:2.1px;">80,00</div>
<div class="c w" style="left:639px;top:998px;width:82px;height:22px;padding-left:2.0px;">6,55</div>
<div class="c w" style="left:723px;top:998px;width:83px;height:22px;padding-left:2.6px;"><span class="n1">1</span>3,50</div>
<div class="k" style="left:7px;top:1020px;width:632px;height:146px"></div>
<div class="c w" style="left:9px;top:1022px;width:116px;height:22px;padding-left:2.5px;">Instrument</div>
<div class="c g s1" style="left:127px;top:1022px;width:83px;height:22px;padding-left:2.0px;">SOYBEAN</div>
<div class="c g" style="left:212px;top:1022px;width:84px;height:22px;padding-left:2.85px;">SUGAR</div>
<div class="c r" style="left:298px;top:1022px;width:83px;height:22px;padding-left:2.4px;">WHEAT</div>
<div class="c r s2" style="left:383px;top:1022px;width:82px;height:22px;">USD Index</div>
<div class="c r s3" style="left:467px;top:1022px;width:84px;height:22px;padding-left:2.4px;">NIKKEI225</div>
<div class="c r" style="left:553px;top:1022px;width:84px;height:22px;padding-left:2.1px;">USDPLN</div>
<div class="c b" style="left:9px;top:1046px;width:116px;height:22px;padding-left:2.5px;">Open Price</div>
<div class="c o" style="left:127px;top:1046px;width:83px;height:22px;padding-left:2.0px;">0</div>
<div class="c o" style="left:212px;top:1046px;width:84px;height:22px;padding-left:2.85px;">0,00</div>
<div class="c o" style="left:298px;top:1046px;width:83px;height:22px;padding-left:2.4px;">0</div>
<div class="c o" style="left:383px;top:1046px;width:82px;height:22px;padding-left:2.1px;">0,00</div>
<div class="c o" style="left:467px;top:1046px;width:84px;height:22px;padding-left:2.4px;">0</div>
<div class="c o" style="left:553px;top:1046px;width:84px;height:22px;padding-left:2.1px;">0,0000</div>
<div class="c b" style="left:9px;top:1070px;width:116px;height:22px;padding-left:2.5px;">Open +/-</div>
<div class="c w" style="left:127px;top:1070px;width:83px;height:22px;padding-left:2.0px;"><span class="hy">-</span>9,29</div>
<div class="c w" style="left:212px;top:1070px;width:84px;height:22px;padding-left:2.85px;"><span class="hy">-</span>0,32</div>
<div class="c w" style="left:298px;top:1070px;width:83px;height:22px;padding-left:2.4px;">5,40</div>
<div class="c w" style="left:383px;top:1070px;width:82px;height:22px;padding-left:2.1px;">0,28</div>
<div class="c w" style="left:467px;top:1070px;width:84px;height:22px;padding-left:2.4px;"><span class="n1">1</span>60,25</div>
<div class="c w" style="left:553px;top:1070px;width:84px;height:22px;padding-left:2.1px;">0,0235</div>
<div class="c b" style="left:9px;top:1094px;width:116px;height:22px;padding-left:2.5px;">Open +/-</div>
<div class="c w" style="left:127px;top:1094px;width:83px;height:22px;padding-left:2.0px;"><span class="hy">-</span>24,75</div>
<div class="c w" style="left:212px;top:1094px;width:84px;height:22px;padding-left:2.85px;"><span class="hy">-</span><span class="n1">1</span>,85</div>
<div class="c w" style="left:298px;top:1094px;width:83px;height:22px;padding-left:2.4px;"><span class="n1">1</span>3,25</div>
<div class="c w" style="left:383px;top:1094px;width:82px;height:22px;padding-left:2.1px;">0,95</div>
<div class="c w" style="left:467px;top:1094px;width:84px;height:22px;padding-left:2.4px;">530,00</div>
<div class="c w" style="left:553px;top:1094px;width:84px;height:22px;padding-left:2.1px;">0,0797</div>
<div class="c b" style="left:9px;top:1118px;width:116px;height:22px;padding-left:2.5px;">Open +/-</div>
<div class="c w" style="left:127px;top:1118px;width:83px;height:22px;padding-left:2.0px;">9,<span class="n1">1</span>6</div>
<div class="c w" style="left:212px;top:1118px;width:84px;height:22px;padding-left:2.85px;">0,25</div>
<div class="c w" style="left:298px;top:1118px;width:83px;height:22px;padding-left:2.4px;"><span class="hy">-</span>8,78</div>
<div class="c w" style="left:383px;top:1118px;width:82px;height:22px;padding-left:2.1px;"><span class="hy">-</span>0,30</div>
<div class="c w" style="left:467px;top:1118px;width:84px;height:22px;padding-left:2.4px;"><span class="hy">-</span>204,20</div>
<div class="c w" style="left:553px;top:1118px;width:84px;height:22px;padding-left:2.1px;"><span class="hy">-</span>0,0<span class="n1">1</span>88</div>
<div class="c b" style="left:9px;top:1142px;width:116px;height:22px;padding-left:2.5px;">Open +/-</div>
<div class="c w" style="left:127px;top:1142px;width:83px;height:22px;padding-left:2.0px;">36,38</div>
<div class="c w" style="left:212px;top:1142px;width:84px;height:22px;padding-left:2.85px;">0,80</div>
<div class="c w" style="left:298px;top:1142px;width:83px;height:22px;padding-left:2.4px;"><span class="hy">-</span>2<span class="n1">1</span>,<span class="n1">1</span>2</div>
<div class="c w" style="left:383px;top:1142px;width:82px;height:22px;padding-left:2.1px;"><span class="hy">-</span>0,95</div>
<div class="c w" style="left:467px;top:1142px;width:84px;height:22px;padding-left:2.4px;"><span class="hy">-</span>690,00</div>
<div class="c w" style="left:553px;top:1142px;width:84px;height:22px;padding-left:2.1px;"><span class="hy">-</span>0,0444</div>
</body></html>
